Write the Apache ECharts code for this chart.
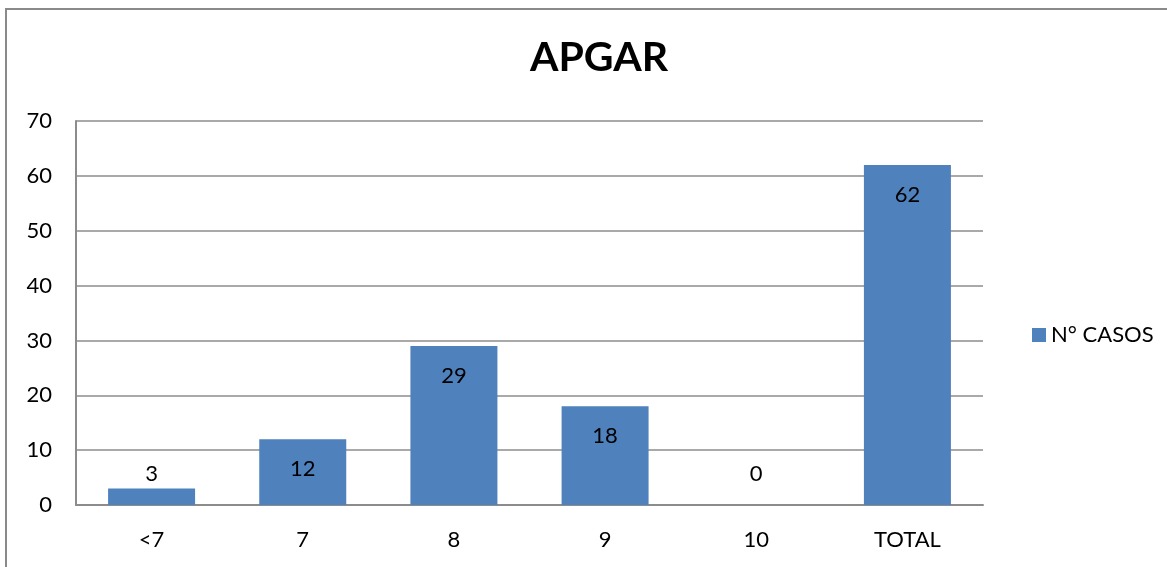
<!DOCTYPE html>
<html>
<head>
<meta charset="utf-8">
<script src="https://cdn.jsdelivr.net/npm/echarts@6/dist/echarts.min.js"></script>
<style>
  html, body { margin: 0; padding: 0; background: #fff; }
  #chart { width: 1167px; height: 567px; }
</style>
</head>
<body>
<div id="chart"></div>
<script>
// APGAR score distribution
const titleText = 'APGAR';
const seriesName = 'N° CASOS';
const categories = ['<7', '7', '8', '9', '10', 'TOTAL'];
const casos = [3, 12, 29, 18, 0, 62];
const yTicks = [0, 10, 20, 30, 40, 50, 60, 70];

const FONT = 'Lato, "Open Sans", sans-serif';
const BAR = '#4F81BD';
const GRID = '#8c8c8c';

// Short bars get their label above the bar, tall ones inside the top.
const barData = casos.map(v => {
  if (v < 8) {
    return { value: v, label: { position: 'top', distance: v === 0 ? 20 : 4 } };
  }
  return { value: v };
});

const chart = echarts.init(document.getElementById('chart'), null, { renderer: 'canvas' });
chart.setOption({
  animation: false,
  backgroundColor: '#fff',
  graphic: [{
    type: 'rect',
    shape: { x: 6, y: 9, width: 1300, height: 700 },
    style: { fill: 'none', stroke: '#8a8a8a', lineWidth: 2 },
    silent: true
  }],
  title: {
    text: titleText,
    left: 594, top: 32,
    textAlign: 'center',
    textStyle: { fontFamily: FONT, fontWeight: 'bold', fontSize: 41, color: '#000' }
  },
  legend: {
    data: [seriesName],
    left: 1027, top: 319,
    icon: 'rect', itemWidth: 14, itemHeight: 14, itemGap: 7,
    textStyle: { fontFamily: FONT, fontSize: 22, color: '#000', padding: [0, 0, 0, 0] }
  },
  grid: { left: 76, right: 184, top: 121, bottom: 62, containLabel: false },
  xAxis: {
    type: 'category',
    data: categories,
    axisLine: { lineStyle: { color: GRID, width: 2 } },
    axisTick: { show: false },
    axisLabel: { fontFamily: FONT, fontSize: 22, color: '#000', margin: 24 }
  },
  yAxis: {
    type: 'value',
    min: yTicks[0], max: yTicks[yTicks.length - 1], interval: 10,
    axisLine: { show: true, lineStyle: { color: GRID, width: 2 } },
    axisTick: { show: false },
    splitLine: { lineStyle: { color: GRID, width: 1.5 } },
    axisLabel: { fontFamily: FONT, fontSize: 22, color: '#000', margin: 24 }
  },
  series: [{
    name: seriesName,
    type: 'bar',
    data: barData,
    barWidth: 87,
    itemStyle: { color: BAR },
    label: {
      show: true,
      position: 'insideTop',
      distance: 19,
      fontFamily: FONT, fontSize: 22, color: '#000'
    }
  }]
});
</script>
</body>
</html>
